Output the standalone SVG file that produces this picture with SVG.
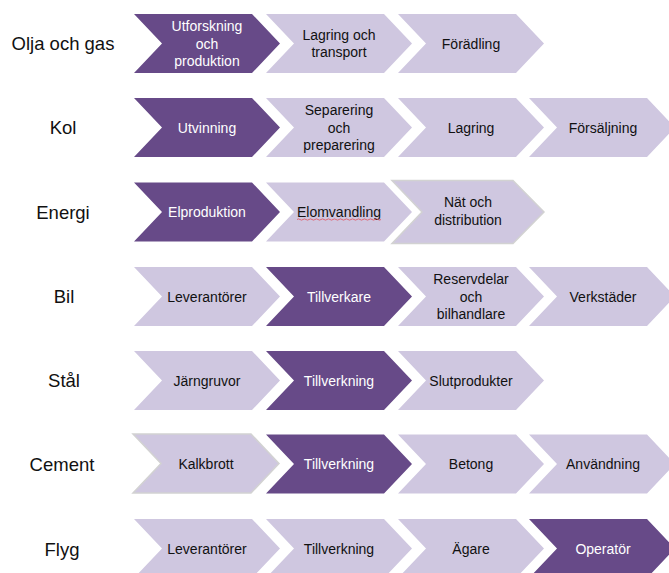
<svg xmlns="http://www.w3.org/2000/svg" width="669" height="573" viewBox="0 0 669 573">
<defs>
<path id="chev" d="M0,-29.5 L118,-29.5 L146,0 L118,29.5 L0,29.5 L28,0 Z"/>
</defs>
<style>
.dk{fill:#674A88}
.lt{fill:#CFC7E0}
.gb{stroke:#D2D2D2;stroke-width:1.5}
text{font-family:"Liberation Sans",Arial,sans-serif}
.t{font-size:14px;text-anchor:middle}
.w{fill:#FFFFFF}
.b{fill:#111111}
.row{font-size:18.5px;text-anchor:middle;fill:#111111}
</style>
<rect width="669" height="573" fill="#FFFFFF"/>
<g id="labels">
<text class="row" x="63" y="50">Olja och gas</text>
<text class="row" x="63" y="134">Kol</text>
<text class="row" x="63" y="218.5">Energi</text>
<text class="row" x="64" y="303">Bil</text>
<text class="row" x="64" y="387">Stål</text>
<text class="row" x="62" y="471">Cement</text>
<text class="row" x="62" y="555.5">Flyg</text>
</g>
<g id="row-olja">
<g id="olja-1"><use href="#chev" class="dk" x="134" y="43.5"/><text class="t w" x="207" y="31">Utforskning</text><text class="t w" x="207" y="48.5">och</text><text class="t w" x="207" y="66">produktion</text></g>
<g id="olja-2"><use href="#chev" class="lt" x="266" y="43.5"/><text class="t b" x="339" y="40">Lagring och</text><text class="t b" x="339" y="57">transport</text></g>
<g id="olja-3"><use href="#chev" class="lt" x="398" y="43.5"/><text class="t b" x="471" y="48.5">Förädling</text></g>
</g>
<g id="row-kol">
<g id="kol-1"><use href="#chev" class="dk" x="134" y="127.5"/><text class="t w" x="207" y="132.5">Utvinning</text></g>
<g id="kol-2"><use href="#chev" class="lt" x="266" y="127.5"/><text class="t b" x="339" y="115">Separering</text><text class="t b" x="339" y="132.5">och</text><text class="t b" x="339" y="150">preparering</text></g>
<g id="kol-3"><use href="#chev" class="lt" x="398" y="127.5"/><text class="t b" x="471" y="132.5">Lagring</text></g>
<g id="kol-4"><use href="#chev" class="lt" x="529" y="127.5"/><text class="t b" x="603" y="132.5">Försäljning</text></g>
</g>
<g id="row-energi">
<g id="energi-1"><use href="#chev" class="dk" x="134" y="212"/><text class="t w" x="207" y="217">Elproduktion</text></g>
<g id="energi-2"><use href="#chev" class="lt" x="266" y="212"/><text class="t b" x="339" y="217">Elomvandling</text><path d="M297,219.5 q1.5,-1.2 3,0 t3,0 t3,0 t3,0 t3,0 t3,0 t3,0 t3,0 t3,0 t3,0 t3,0 t3,0 t3,0 t3,0 t3,0 t3,0 t3,0 t3,0 t3,0 t3,0 t3,0 t3,0 t3,0 t3,0 t3,0 t3,0 t3,0 t3,0" fill="none" stroke="#E0505A" stroke-width="0.8"/></g>
<g id="energi-3"><path class="lt gb" d="M392,180.5 L513,180.5 L544,212 L513,243.5 L392,243.5 L422,212 Z"/><text class="t b" x="468" y="207">Nät och</text><text class="t b" x="468" y="224.5">distribution</text></g>
</g>
<g id="row-bil">
<g id="bil-1"><use href="#chev" class="lt" x="134" y="296.5"/><text class="t b" x="207" y="301.5">Leverantörer</text></g>
<g id="bil-2"><use href="#chev" class="dk" x="266" y="296.5"/><text class="t w" x="339" y="301.5">Tillverkare</text></g>
<g id="bil-3"><use href="#chev" class="lt" x="398" y="296.5"/><text class="t b" x="471" y="284">Reservdelar</text><text class="t b" x="471" y="301.5">och</text><text class="t b" x="471" y="319">bilhandlare</text></g>
<g id="bil-4"><use href="#chev" class="lt" x="529" y="296.5"/><text class="t b" x="603" y="301.5">Verkstäder</text></g>
</g>
<g id="row-stal">
<g id="stal-1"><use href="#chev" class="lt" x="134" y="380.5"/><text class="t b" x="207" y="385.5">Järngruvor</text></g>
<g id="stal-2"><use href="#chev" class="dk" x="266" y="380.5"/><text class="t w" x="339" y="385.5">Tillverkning</text></g>
<g id="stal-3"><use href="#chev" class="lt" x="398" y="380.5"/><text class="t b" x="471" y="385.5">Slutprodukter</text></g>
</g>
<g id="row-cement">
<g id="cement-1"><use href="#chev" class="lt gb" x="133" y="463.5"/><text class="t b" x="206" y="468.5">Kalkbrott</text></g>
<g id="cement-2"><use href="#chev" class="dk" x="266" y="464"/><text class="t w" x="339" y="469">Tillverkning</text></g>
<g id="cement-3"><use href="#chev" class="lt" x="398" y="464"/><text class="t b" x="471" y="469">Betong</text></g>
<g id="cement-4"><use href="#chev" class="lt" x="529" y="464"/><text class="t b" x="603" y="469">Användning</text></g>
</g>
<g id="row-flyg">
<g id="flyg-1"><use href="#chev" class="lt" x="134" y="548.5"/><text class="t b" x="207" y="553.5">Leverantörer</text></g>
<g id="flyg-2"><use href="#chev" class="lt" x="266" y="548.5"/><text class="t b" x="339" y="553.5">Tillverkning</text></g>
<g id="flyg-3"><use href="#chev" class="lt" x="398" y="548.5"/><text class="t b" x="471" y="553.5">Ägare</text></g>
<g id="flyg-4"><use href="#chev" class="dk" x="529" y="548.5"/><text class="t w" x="603" y="553.5">Operatör</text></g>
</g>
<g id="connectors"></g>
</svg>
